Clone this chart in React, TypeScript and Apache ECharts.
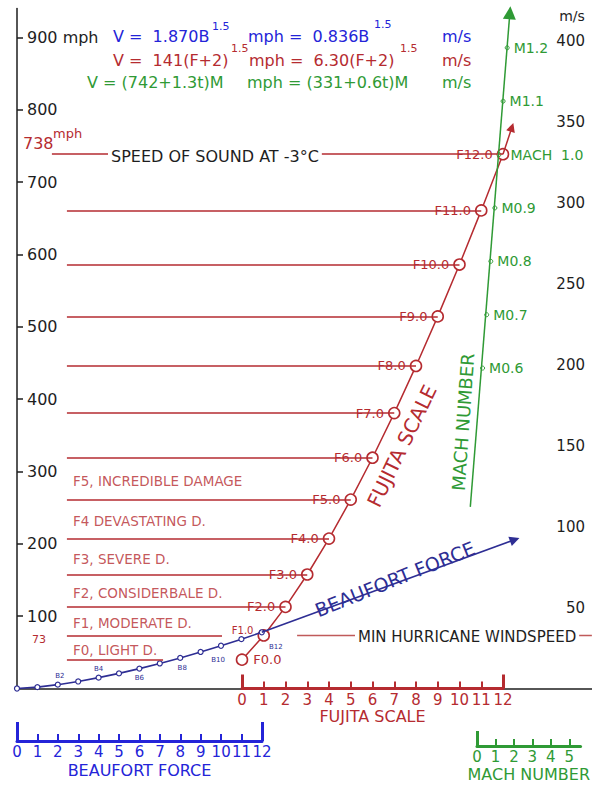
import React, { useEffect, useRef } from "react";
import * as echarts from "echarts";

const FF = "DejaVu Sans";
const RED = "#b52b30";
const GREEN = "#2f9a35";
const BLUE = "#2424d8";
const NAVY = "#2e2e94";
const INK = "#1e1e1e";

// ---- data ----
const beaufortForce = [0, 1, 2, 3, 4, 5, 6, 7, 8, 9, 10, 11, 12];
const beaufortMph = [0, 1.9, 5.3, 9.7, 15.0, 20.9, 27.5, 34.6, 42.3, 50.5, 59.1, 68.2, 77.7];
const beaufortArrowTip = [24.4, 205.7];

const fujitaScale = [0, 1, 2, 3, 4, 5, 6, 7, 8, 9, 10, 11, 12];
const fujitaMph = [39.9, 73.3, 112.8, 157.6, 207.2, 261.1, 319.0, 380.7, 445.9, 514.4, 586.1, 660.9, 738.6];
const fujitaArrowTip = [12.41, 775.8];

const machNumbers = [0.6, 0.7, 0.8, 0.9, 1.0, 1.1, 1.2];
const machMph = [442.9, 516.7, 590.5, 664.3, 738.1, 811.9, 885.7];
const machLineStart = [0.3, 251];
const machLineTip = [1.265, 934];

const damageLabels = [
  "F0, LIGHT D.",
  "F1, MODERATE D.",
  "F2, CONSIDERBALE D.",
  "F3, SEVERE D.",
  "F4 DEVASTATING D.",
  "F5, INCREDIBLE DAMAGE",
];

const mphTicks = [100, 200, 300, 400, 500, 600, 700, 800, 900];
const msTicks = [50, 100, 150, 200, 250, 300, 350, 400];
const machScaleTicks = [0, 1, 2, 3, 4, 5];
const hurricaneMph = 74;
const MPH_PER_MS = 2.23694;

// ---- layout constants (axis units) ----
const Y_MAX = 940;
const LEVEL_LINE_START_F = -8.05;
const SOUND_LINE_START_F = -8.74;
const F0_LINE_END_F = -3.63;
const F1_LINE_END_F = -0.92;
const DAMAGE_LABEL_F = -7.77;
const HURRICANE_LINE_START_B = 13.73;

function txt(text: string, x: number, y: number, fill: string, fontSize: number, extra: any = {}, el: any = {}) {
  return {
    type: "text",
    x,
    y,
    z: 100,
    silent: true,
    ...el,
    style: {
      text,
      fill,
      fontSize,
      fontFamily: FF,
      textAlign: "left",
      textVerticalAlign: "middle",
      ...extra,
    },
  };
}

export default function App() {
  const ref = useRef<HTMLDivElement>(null);

  useEffect(() => {
    if (!ref.current) return;
    const chart = echarts.init(ref.current, null, { renderer: "svg" });

    const levelLines: any[] = fujitaScale.map((f, i) => {
      let start = LEVEL_LINE_START_F;
      let end = f;
      if (i === 0) end = F0_LINE_END_F;
      if (i === 1) end = F1_LINE_END_F;
      if (i === 12) start = SOUND_LINE_START_F;
      return [{ coord: [start, fujitaMph[i]] }, { coord: [end, fujitaMph[i]] }];
    });

    const fujitaLabel = (i: number) => {
      if (i === 0) return { position: "right", distance: 4, backgroundColor: "transparent" };
      if (i === 1) return { position: "left", distance: 3, offset: [0, -5], fontSize: 10, backgroundColor: "transparent" };
      return {};
    };

    const bLabel = (b: number) => {
      const base = { show: true };
      switch (b) {
        case 2:
          return { ...base, position: "top", distance: 2, offset: [2, 0] };
        case 4:
          return { ...base, position: "top", distance: 2 };
        case 6:
          return { ...base, position: "bottom", distance: 3 };
        case 8:
          return { ...base, position: "bottom", distance: 3, offset: [2, 0] };
        case 10:
          return { ...base, position: "bottom", distance: 8, offset: [-3, 0] };
        case 12:
          return { ...base, position: "bottom", distance: 8, offset: [14, 0] };
        default:
          return { show: false };
      }
    };

    const scaleLabel = (color: string) => ({
      color,
      fontSize: 15,
      lineHeight: 14,
      margin: 4,
      fontFamily: FF,
    });
    const scaleName = (color: string) => ({
      color,
      fontSize: 16,
      lineHeight: 16,
      fontFamily: FF,
    });

    const option: any = {
      animation: false,
      backgroundColor: "#ffffff",
      textStyle: { fontFamily: FF },
      grid: [
        { left: 17, right: 0, top: 8.5, bottom: 96.5 }, // main, Beaufort units
        { left: 24.5, right: 2, top: 8.5, bottom: 96.5 }, // Fujita plot
        { left: 458, right: 11, top: 8.5, bottom: 96.5 }, // Mach plot
        { left: 242, right: 89, top: 600, bottom: 96.5 }, // Fujita scale
        { left: 17, right: 330, top: 700, bottom: 44 }, // Beaufort scale
        { left: 477, right: 0, top: 720, bottom: 39 }, // Mach scale
      ],
      xAxis: [
        {
          gridIndex: 0,
          type: "value",
          min: 0,
          max: 28.186,
          axisLine: { show: true, onZero: false, lineStyle: { color: INK, width: 1.5 } },
          axisTick: { show: false },
          axisLabel: { show: false },
          splitLine: { show: false },
        },
        { gridIndex: 1, type: "value", min: -10, max: 16, show: false },
        { gridIndex: 2, type: "value", min: 0, max: 3, show: false },
        {
          gridIndex: 3,
          type: "value",
          min: 0,
          max: 12,
          interval: 1,
          position: "bottom",
          axisLine: { show: true, onZero: false, lineStyle: { color: RED, width: 3 } },
          axisTick: { show: true, inside: true, length: 7, lineStyle: { color: RED, width: 2 } },
          axisLabel: scaleLabel(RED),
          splitLine: { show: false },
          name: "FUJITA SCALE",
          nameLocation: "middle",
          nameGap: 20,
          nameTextStyle: scaleName(RED),
        },
        {
          gridIndex: 3,
          type: "value",
          min: 0,
          max: 12,
          position: "bottom",
          axisLine: { show: false, onZero: false },
          axisTick: { show: true, inside: true, length: 14, customValues: [0, 12], lineStyle: { color: RED, width: 3 } },
          axisLabel: { show: false },
          splitLine: { show: false },
        },
        {
          gridIndex: 4,
          type: "value",
          min: 0,
          max: 12,
          interval: 1,
          position: "bottom",
          axisLine: { show: true, onZero: false, lineStyle: { color: BLUE, width: 3 } },
          axisTick: { show: true, inside: true, length: 7, lineStyle: { color: BLUE, width: 2 } },
          axisLabel: scaleLabel(BLUE),
          splitLine: { show: false },
          name: "BEAUFORT FORCE",
          nameLocation: "middle",
          nameGap: 21,
          nameTextStyle: scaleName(BLUE),
        },
        {
          gridIndex: 4,
          type: "value",
          min: 0,
          max: 12,
          position: "bottom",
          axisLine: { show: false, onZero: false },
          axisTick: { show: true, inside: true, length: 19, customValues: [0, 12], lineStyle: { color: BLUE, width: 3 } },
          axisLabel: { show: false },
          splitLine: { show: false },
        },
        {
          gridIndex: 5,
          type: "value",
          min: 0,
          max: 5.61,
          position: "bottom",
          axisLine: { show: true, onZero: false, lineStyle: { color: GREEN, width: 3 } },
          axisTick: { show: true, inside: true, length: 7, customValues: machScaleTicks, lineStyle: { color: GREEN, width: 2 } },
          axisLabel: { ...scaleLabel(GREEN), customValues: machScaleTicks },
          splitLine: { show: false },
          name: "MACH NUMBER",
          nameLocation: "middle",
          nameGap: 20,
          nameTextStyle: scaleName(GREEN),
        },
        {
          gridIndex: 5,
          type: "value",
          min: 0,
          max: 5.61,
          position: "bottom",
          axisLine: { show: false, onZero: false },
          axisTick: { show: true, inside: true, length: 15, customValues: [0], lineStyle: { color: GREEN, width: 3 } },
          axisLabel: { show: false },
          splitLine: { show: false },
        },
      ],
      yAxis: [
        {
          gridIndex: 0,
          type: "value",
          min: 0,
          max: Y_MAX,
          position: "left",
          axisLine: { show: true, onZero: false, lineStyle: { color: INK, width: 1.5 } },
          axisTick: { show: true, inside: true, length: 6, customValues: mphTicks, lineStyle: { color: INK, width: 1.5 } },
          axisLabel: {
            inside: true,
            margin: 10,
            customValues: mphTicks,
            color: INK,
            fontSize: 16,
            fontFamily: FF,
            formatter: (v: number) => (v === 900 ? "900 mph" : String(v)),
          },
          splitLine: { show: false },
        },
        {
          gridIndex: 0,
          type: "value",
          min: 0,
          max: Y_MAX / MPH_PER_MS,
          position: "right",
          axisLine: { show: false },
          axisTick: { show: false },
          axisLabel: { inside: true, margin: 7, customValues: msTicks, color: INK, fontSize: 15, fontFamily: FF },
          splitLine: { show: false },
        },
        { gridIndex: 1, type: "value", min: 0, max: Y_MAX, show: false },
        { gridIndex: 2, type: "value", min: 0, max: Y_MAX, show: false },
        { gridIndex: 3, type: "value", min: 0, max: 1, show: false },
        { gridIndex: 4, type: "value", min: 0, max: 1, show: false },
        { gridIndex: 5, type: "value", min: 0, max: 1, show: false },
      ],
      series: [
        // Fujita level lines
        {
          type: "line",
          xAxisIndex: 1,
          yAxisIndex: 2,
          z: 1,
          clip: false,
          silent: true,
          data: [],
          markLine: {
            silent: true,
            symbol: "none",
            label: { show: false },
            emphasis: { disabled: true },
            lineStyle: { color: RED, width: 1.6, type: "solid" },
            data: levelLines,
          },
        },
        // min hurricane windspeed line
        {
          type: "line",
          xAxisIndex: 0,
          yAxisIndex: 0,
          z: 1,
          clip: false,
          silent: true,
          data: [],
          markLine: {
            silent: true,
            symbol: "none",
            label: { show: false },
            emphasis: { disabled: true },
            lineStyle: { color: "#c05a5a", width: 1.3, type: "solid" },
            data: [[{ coord: [HURRICANE_LINE_START_B, hurricaneMph] }, { coord: [28.18, hurricaneMph] }]],
          },
        },
        // damage labels
        {
          type: "scatter",
          xAxisIndex: 1,
          yAxisIndex: 2,
          z: 2,
          clip: false,
          silent: true,
          symbolSize: 0,
          data: damageLabels.map((t, i) => ({
            name: t,
            value: [DAMAGE_LABEL_F, (fujitaMph[i] + fujitaMph[i + 1]) / 2],
          })),
          label: {
            show: true,
            position: "right",
            distance: 0,
            offset: [0, 2],
            formatter: "{b}",
            color: RED,
            fontSize: 13.5,
            fontFamily: FF,
          },
        },
        // Beaufort curve
        {
          type: "line",
          xAxisIndex: 0,
          yAxisIndex: 0,
          z: 4,
          clip: false,
          silent: true,
          data: beaufortForce.map((b, i) => ({ value: [b, beaufortMph[i]], label: bLabel(b) })),
          symbol: "circle",
          symbolSize: 5,
          itemStyle: { color: "#ffffff", borderColor: NAVY, borderWidth: 1.2 },
          lineStyle: { color: NAVY, width: 1.6 },
          label: {
            fontSize: 7,
            color: NAVY,
            fontFamily: FF,
            formatter: (p: any) => `B${p.value[0]}`,
          },
          markLine: {
            silent: true,
            symbol: ["none", "triangle"],
            symbolSize: 10,
            label: { show: false },
            emphasis: { disabled: true },
            lineStyle: { color: NAVY, width: 1.6, type: "solid" },
            data: [[{ coord: [12, beaufortMph[12]] }, { coord: beaufortArrowTip }]],
          },
        },
        // Fujita curve
        {
          type: "line",
          xAxisIndex: 1,
          yAxisIndex: 2,
          z: 3,
          clip: false,
          silent: true,
          data: fujitaScale.map((f, i) => ({ value: [f, fujitaMph[i]], label: fujitaLabel(i) })),
          symbol: "circle",
          symbolSize: 11,
          itemStyle: { color: "#ffffff", borderColor: RED, borderWidth: 1.6 },
          lineStyle: { color: RED, width: 1.5 },
          label: {
            show: true,
            position: "left",
            distance: 3,
            color: RED,
            fontSize: 13,
            fontFamily: FF,
            backgroundColor: "#ffffff",
            padding: [1, 1, 0, 1],
            formatter: (p: any) => `F${p.value[0]}.0`,
          },
          markLine: {
            silent: true,
            symbol: ["none", "triangle"],
            symbolSize: 9,
            label: { show: false },
            emphasis: { disabled: true },
            lineStyle: { color: RED, width: 1.5, type: "solid" },
            data: [[{ coord: [12, fujitaMph[12]] }, { coord: fujitaArrowTip }]],
          },
        },
        // Mach line
        {
          type: "line",
          xAxisIndex: 2,
          yAxisIndex: 3,
          z: 3,
          clip: false,
          silent: true,
          data: machNumbers.map((m, i) => ({
            value: [m, machMph[i]],
            label: m === 1 ? { offset: [5, 0] } : {},
          })),
          symbol: "circle",
          symbolSize: 4,
          itemStyle: { color: "#ffffff", borderColor: GREEN, borderWidth: 1 },
          lineStyle: { opacity: 0 },
          label: {
            show: true,
            position: "right",
            distance: 4,
            color: GREEN,
            fontSize: 14,
            fontFamily: FF,
            formatter: (p: any) => (p.value[0] === 1 ? "MACH  1.0" : `M${p.value[0].toFixed(1)}`),
          },
          markLine: {
            silent: true,
            symbol: ["none", "triangle"],
            symbolSize: 13,
            label: { show: false },
            emphasis: { disabled: true },
            lineStyle: { color: GREEN, width: 1.5, type: "solid" },
            data: [[{ coord: machLineStart }, { coord: machLineTip }]],
          },
        },
      ],
      graphic: [
        // formulas
        txt("V =  1.870B", 113, 36, BLUE, 16),
        txt("1.5", 212, 26, BLUE, 11),
        txt("mph =  0.836B", 248, 36, BLUE, 16),
        txt("1.5", 374, 24, BLUE, 11),
        txt("m/s", 442, 36, BLUE, 16),
        txt("V =  141(F+2)", 113, 60, RED, 16),
        txt("1.5", 231, 48, RED, 11),
        txt("mph =  6.30(F+2)", 249, 60, RED, 16),
        txt("1.5", 400, 48, RED, 11),
        txt("m/s", 442, 60, RED, 16),
        txt("V = (742+1.3t)M", 87, 82, GREEN, 16),
        txt("mph = (331+0.6t)M", 247, 82, GREEN, 16),
        txt("m/s", 442, 82, GREEN, 16),
        txt("m/s", 572, 16, INK, 14, { textAlign: "center" }),
        // annotations
        txt("738", 23, 143, RED, 16),
        txt("mph", 53, 133, RED, 13),
        txt("73", 32, 639, RED, 11),
        txt("SPEED OF SOUND AT -3°C", 108, 156, INK, 16, { backgroundColor: "#ffffff", padding: [0, 3] }),
        txt("MIN HURRICANE WINDSPEED", 355, 637, INK, 15, { backgroundColor: "#ffffff", padding: [0, 3] }),
        // rotated scale names
        txt("FUJITA SCALE", 402, 446, RED, 20, { textAlign: "center" }, { rotation: (64 * Math.PI) / 180 }),
        txt("MACH NUMBER", 463, 422, GREEN, 18, { textAlign: "center" }, { rotation: (86 * Math.PI) / 180 }),
        txt("BEAUFORT FORCE", 395, 579, NAVY, 19, { textAlign: "center" }, { rotation: (22 * Math.PI) / 180 }),
      ],
    };

    chart.setOption(option);
    return () => chart.dispose();
  }, []);

  return (
    <div
      ref={ref}
      style={{ position: "fixed", left: 0, top: 0, width: 592, height: 785, background: "#fff" }}
    />
  );
}
